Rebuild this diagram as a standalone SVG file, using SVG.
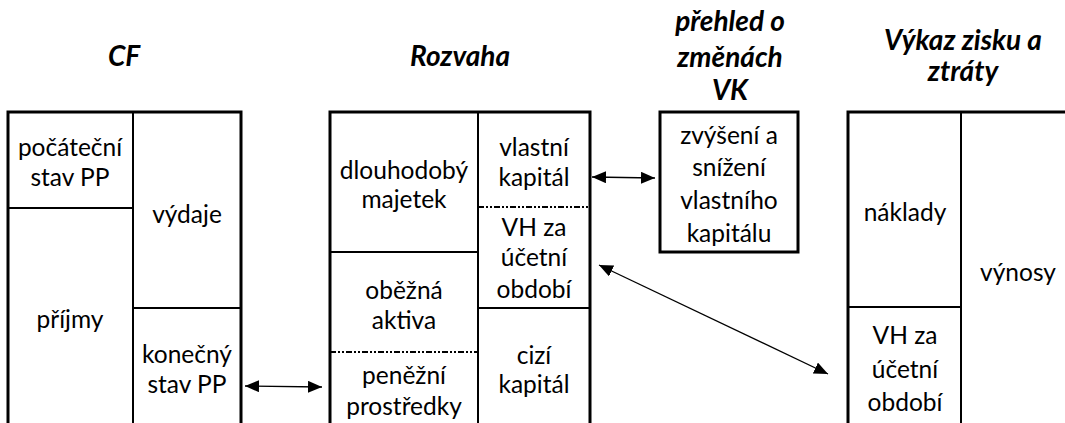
<svg xmlns="http://www.w3.org/2000/svg" width="1065" height="423" viewBox="0 0 1065 423">
<style>
.t{font-family:Lato,"Liberation Sans",sans-serif;font-size:24.5px;fill:#000;text-anchor:middle}
.h{font-family:Lato,"Liberation Sans",sans-serif;font-size:28px;font-weight:bold;font-style:italic;fill:#000;text-anchor:middle}
.o{fill:none;stroke:#000;stroke-width:3}
.d{fill:none;stroke:#000;stroke-width:2}
.dd{fill:none;stroke:#000;stroke-width:2;stroke-dasharray:6 2 2 2 2 2}
.c{fill:none;stroke:#000;stroke-width:1.3}
</style>
<defs>
<marker id="ah" viewBox="0 0 14 12" refX="14" refY="6" markerWidth="14" markerHeight="12" markerUnits="userSpaceOnUse" orient="auto-start-reverse">
<path d="M0,0 L14,6 L0,12 Z" fill="#000"/>
</marker>
</defs>
<g id="headings">
<text class="h" x="124" y="66">CF</text>
<text class="h" x="460" y="66">Rozvaha</text>
<text class="h" x="730" y="31">přehled o</text>
<text class="h" x="730" y="67">změnách</text>
<text class="h" x="730" y="100">VK</text>
<text class="h" x="963" y="50">Výkaz zisku a</text>
<text class="h" x="963" y="81">ztráty</text>
</g>
<g id="cf">
<path class="o" d="M8,425 V112 H241 V425"/>
<path class="d" d="M133,112 V425 M8,208 H133 M133,308 H241"/>
<text class="t" x="70" y="156">počáteční</text>
<text class="t" x="70" y="186">stav PP</text>
<text class="t" x="187" y="223">výdaje</text>
<text class="t" x="70" y="328">příjmy</text>
<text class="t" x="187" y="363">konečný</text>
<text class="t" x="187" y="393">stav PP</text>
</g>
<g id="rozvaha">
<path class="o" d="M330,425 V112 H590 V425"/>
<path class="d" d="M478,112 V425 M330,252 H478 M478,308 H590"/>
<path class="dd" d="M330,352 H478 M478,207 H590"/>
<text class="t" x="404" y="179">dlouhodobý</text>
<text class="t" x="404" y="208">majetek</text>
<text class="t" x="534" y="156">vlastní</text>
<text class="t" x="534" y="186">kapitál</text>
<text class="t" x="534" y="236">VH za</text>
<text class="t" x="534" y="266">účetní</text>
<text class="t" x="534" y="298">období</text>
<text class="t" x="404" y="299">oběžná</text>
<text class="t" x="404" y="329">aktiva</text>
<text class="t" x="404" y="384">peněžní</text>
<text class="t" x="404" y="415">prostředky</text>
<text class="t" x="534" y="364">cizí</text>
<text class="t" x="534" y="393">kapitál</text>
</g>
<g id="vk">
<rect class="o" x="660" y="112" width="138" height="140"/>
<text class="t" x="729" y="144">zvýšení a</text>
<text class="t" x="729" y="176">snížení</text>
<text class="t" x="729" y="209">vlastního</text>
<text class="t" x="729" y="242">kapitálu</text>
</g>
<g id="vzz">
<path class="o" d="M848,425 V112 H1067"/>
<path class="d" d="M961,112 V425 M848,307 H961"/>
<text class="t" x="905" y="221">náklady</text>
<text class="t" x="1018" y="281">výnosy</text>
<text class="t" x="905" y="344">VH za</text>
<text class="t" x="905" y="378">účetní</text>
<text class="t" x="905" y="411">období</text>
</g>
<g id="connectors">
<line class="c" x1="245" y1="386" x2="322" y2="387" marker-start="url(#ah)" marker-end="url(#ah)"/>
<line class="c" x1="592" y1="177" x2="655" y2="178" marker-start="url(#ah)" marker-end="url(#ah)"/>
<line class="c" x1="599" y1="265" x2="828" y2="374" marker-start="url(#ah)" marker-end="url(#ah)"/>
</g>
</svg>
